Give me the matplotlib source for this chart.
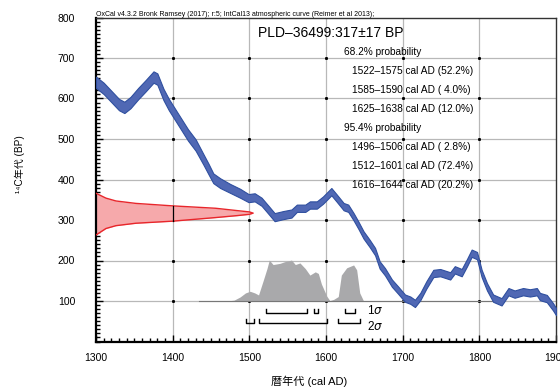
import numpy as np
import matplotlib
matplotlib.use('Agg')
import matplotlib.pyplot as plt
from matplotlib.ticker import MultipleLocator

plt.rcParams['font.family'] = ['Liberation Sans', 'DejaVu Sans', 'Noto Sans CJK JP']

# ---- data ----
# IntCal13 curve (centre, BP) and half-width of the band
curve_year = [1300, 1310, 1320, 1330, 1337, 1345, 1355, 1365, 1375, 1380, 1388, 1395,
              1400, 1410, 1420, 1430, 1440, 1447, 1453, 1462, 1475, 1488, 1499, 1507,
              1516, 1525, 1533, 1544, 1555, 1562, 1573, 1579, 1588, 1596, 1607, 1614,
              1623, 1629, 1636, 1642, 1649, 1657, 1664, 1670, 1677, 1686, 1694, 1703,
              1710, 1716, 1723, 1731, 1740, 1749, 1762, 1768, 1777, 1784, 1790, 1797,
              1803, 1810, 1818, 1829, 1838, 1846, 1857, 1866, 1875, 1879, 1888, 1896, 1900]
curve_bp = [640, 625, 605, 585, 578, 590, 612, 632, 653, 648, 610, 585,
            570, 540, 510, 485, 450, 425, 403, 391, 378, 366, 354, 356,
            345, 325, 307, 312, 316, 329, 329, 337, 337, 349, 370, 354,
            333, 329, 308, 288, 263, 242, 222, 189, 172, 144, 127, 107,
            102, 94, 111, 140, 168, 170, 162, 177, 170, 195, 218, 212,
            168, 135, 107, 98, 123, 117, 123, 120, 123, 111, 106, 86, 74]
curve_err = [14, 14, 14, 14, 14, 14, 14, 14, 14, 14, 14, 14,
             14, 14, 14, 14, 13, 13, 12, 12, 11, 11, 10, 10,
             10, 10, 10, 10, 10, 9, 9, 9, 9, 9, 9, 9,
             9, 9, 9, 9, 9, 9, 9, 9, 9, 9, 9, 9,
             9, 9, 9, 9, 9, 9, 9, 9, 9, 9, 9, 9,
             9, 9, 9, 9, 9, 9, 9, 9, 9, 9, 9, 9, 9]

# measured radiocarbon date 317 +/- 17 BP (shape on the y axis)
meas_bp = [263, 279, 286, 292, 297, 306, 311, 314, 317, 320, 323, 329, 335, 341, 347, 354, 366]
meas_x = [1300, 1313, 1326, 1352, 1399, 1456, 1485, 1500, 1505, 1500, 1485, 1456, 1399, 1352, 1326, 1313, 1300]

# calibrated probability (height above the 100 BP baseline)
post_year = [1434, 1470, 1480, 1488, 1495, 1501, 1507, 1512, 1518, 1523, 1526, 1531,
             1540, 1546, 1555, 1560, 1566, 1573, 1579, 1586, 1590, 1594, 1601, 1605,
             1610, 1616, 1620, 1627, 1636, 1640, 1644, 1649, 1816]
post_h = [0, 0, 2, 10, 20, 24, 20, 15, 50, 80, 101, 90,
          93, 97, 101, 90, 94, 80, 64, 72, 68, 42, 12, 1,
          4, 11, 64, 82, 89, 77, 20, 0, 0]
post_base = 100

# ranges
sig1 = [(1522, 1575), (1585, 1590), (1625, 1638)]
sig2 = [(1496, 1506), (1512, 1601), (1616, 1644)]

title_txt = 'PLD–36499:317±17 BP'
lines_txt = ['68.2% probability',
             '1522–1575 cal AD (52.2%)',
             '1585–1590 cal AD ( 4.0%)',
             '1625–1638 cal AD (12.0%)',
             '95.4% probability',
             '1496–1506 cal AD ( 2.8%)',
             '1512–1601 cal AD (72.4%)',
             '1616–1644 cal AD (20.2%)']
header = 'OxCal v4.3.2 Bronk Ramsey (2017); r:5; IntCal13 atmospheric curve (Reimer et al 2013);'

# ---- figure ----
fig = plt.figure(figsize=(5.6, 3.92), dpi=100)
ax = fig.add_axes([96 / 560, 1 - 341.5 / 392, 460 / 560, 324 / 392])
ax.set_xlim(1300, 1900)
ax.set_ylim(0, 800)

grid_x = [1400, 1500, 1600, 1700, 1800]
grid_y = [100, 200, 300, 400, 500, 600, 700]
for gx in grid_x:
    ax.axvline(gx, color='#b8b8b8', lw=0.9, zorder=0)
for gy in grid_y:
    ax.axhline(gy, color='#b8b8b8', lw=0.9, zorder=0)
gxx, gyy = np.meshgrid(grid_x, grid_y)
ax.plot(gxx.ravel(), gyy.ravel(), 's', color='black', ms=1.1, zorder=1)

# measurement shape
ax.fill_betweenx(meas_bp, 1300, meas_x, color='#f6a9ab', lw=0, zorder=2)
ax.plot(meas_x, meas_bp, color='#e8262b', lw=1.0, zorder=3)
mb = np.array(meas_bp, dtype=float)
mx = np.array(meas_x, dtype=float)
lo = np.interp(1400, mx[:8], mb[:8])
hi = np.interp(1400, mx[9:][::-1], mb[9:][::-1])
ax.plot([1400, 1400], [lo, hi], color='black', lw=0.9, zorder=3)

# calibration curve band
cb = np.array(curve_bp, dtype=float)
ce = np.array(curve_err, dtype=float)
ax.fill_between(curve_year, cb - ce, cb + ce, facecolor='#5068b4',
                edgecolor='#2f4f9f', lw=0.8, zorder=4)

# posterior
ph = np.array(post_h, dtype=float)
ax.fill_between(post_year, post_base, post_base + ph, color='#a9a9ab', lw=0, zorder=3)
ax.plot([post_year[0], post_year[-1]], [post_base, post_base], color='#777777', lw=0.8, zorder=3)

# range brackets
for (a, b) in sig1:
    ax.plot([a, a, b, b], [80, 71, 71, 80], color='black', lw=1.0, zorder=5)
for (a, b) in sig2:
    ax.plot([a, a, b, b], [55, 46, 46, 55], color='black', lw=1.0, zorder=5)
ax.text(1653, 76, '1$\\sigma$', fontsize=8.5, va='center', ha='left', zorder=6)
ax.text(1653, 38, '2$\\sigma$', fontsize=8.5, va='center', ha='left', zorder=6)

# text block
ax.text(0.352, 0.952, title_txt, transform=ax.transAxes, fontsize=10, va='center', ha='left')
for i, t in enumerate(lines_txt):
    xx = 0.539 if 'probability' in t else 0.557
    ax.text(xx, 0.893 - i * 0.0587, t, transform=ax.transAxes, fontsize=7.3,
            va='center', ha='left')

fig.text(96 / 560, 1 - 15 / 392, header, fontsize=5.0, va='center', ha='left')

# axes styling
ax.xaxis.set_major_locator(MultipleLocator(100))
ax.xaxis.set_minor_locator(MultipleLocator(10))
ax.set_yticks(grid_y + [800])
ax.yaxis.set_minor_locator(MultipleLocator(10))
ax.tick_params(which='both', direction='in', top=False, right=False, width=1, colors='black')
ax.tick_params(which='major', length=5)
ax.tick_params(which='minor', length=3)
ax.tick_params(axis='x', which='major', pad=8, labelsize=7.5)
ax.tick_params(axis='y', which='major', pad=15, labelsize=7.5)
for s in ['left', 'bottom']:
    ax.spines[s].set_linewidth(1.6)
for s in ['top', 'right']:
    ax.spines[s].set_linewidth(1.0)
    ax.spines[s].set_color('#333333')

fig.text(20 / 560, 1 - 164 / 392, '¹⁴C年代 (BP)', rotation=90, fontsize=7.2,
         ha='center', va='center')
fig.text(309 / 560, 1 - 381 / 392, '暦年代 (cal AD)', fontsize=8, ha='center', va='center')

fig.savefig('out.png', dpi=100)
